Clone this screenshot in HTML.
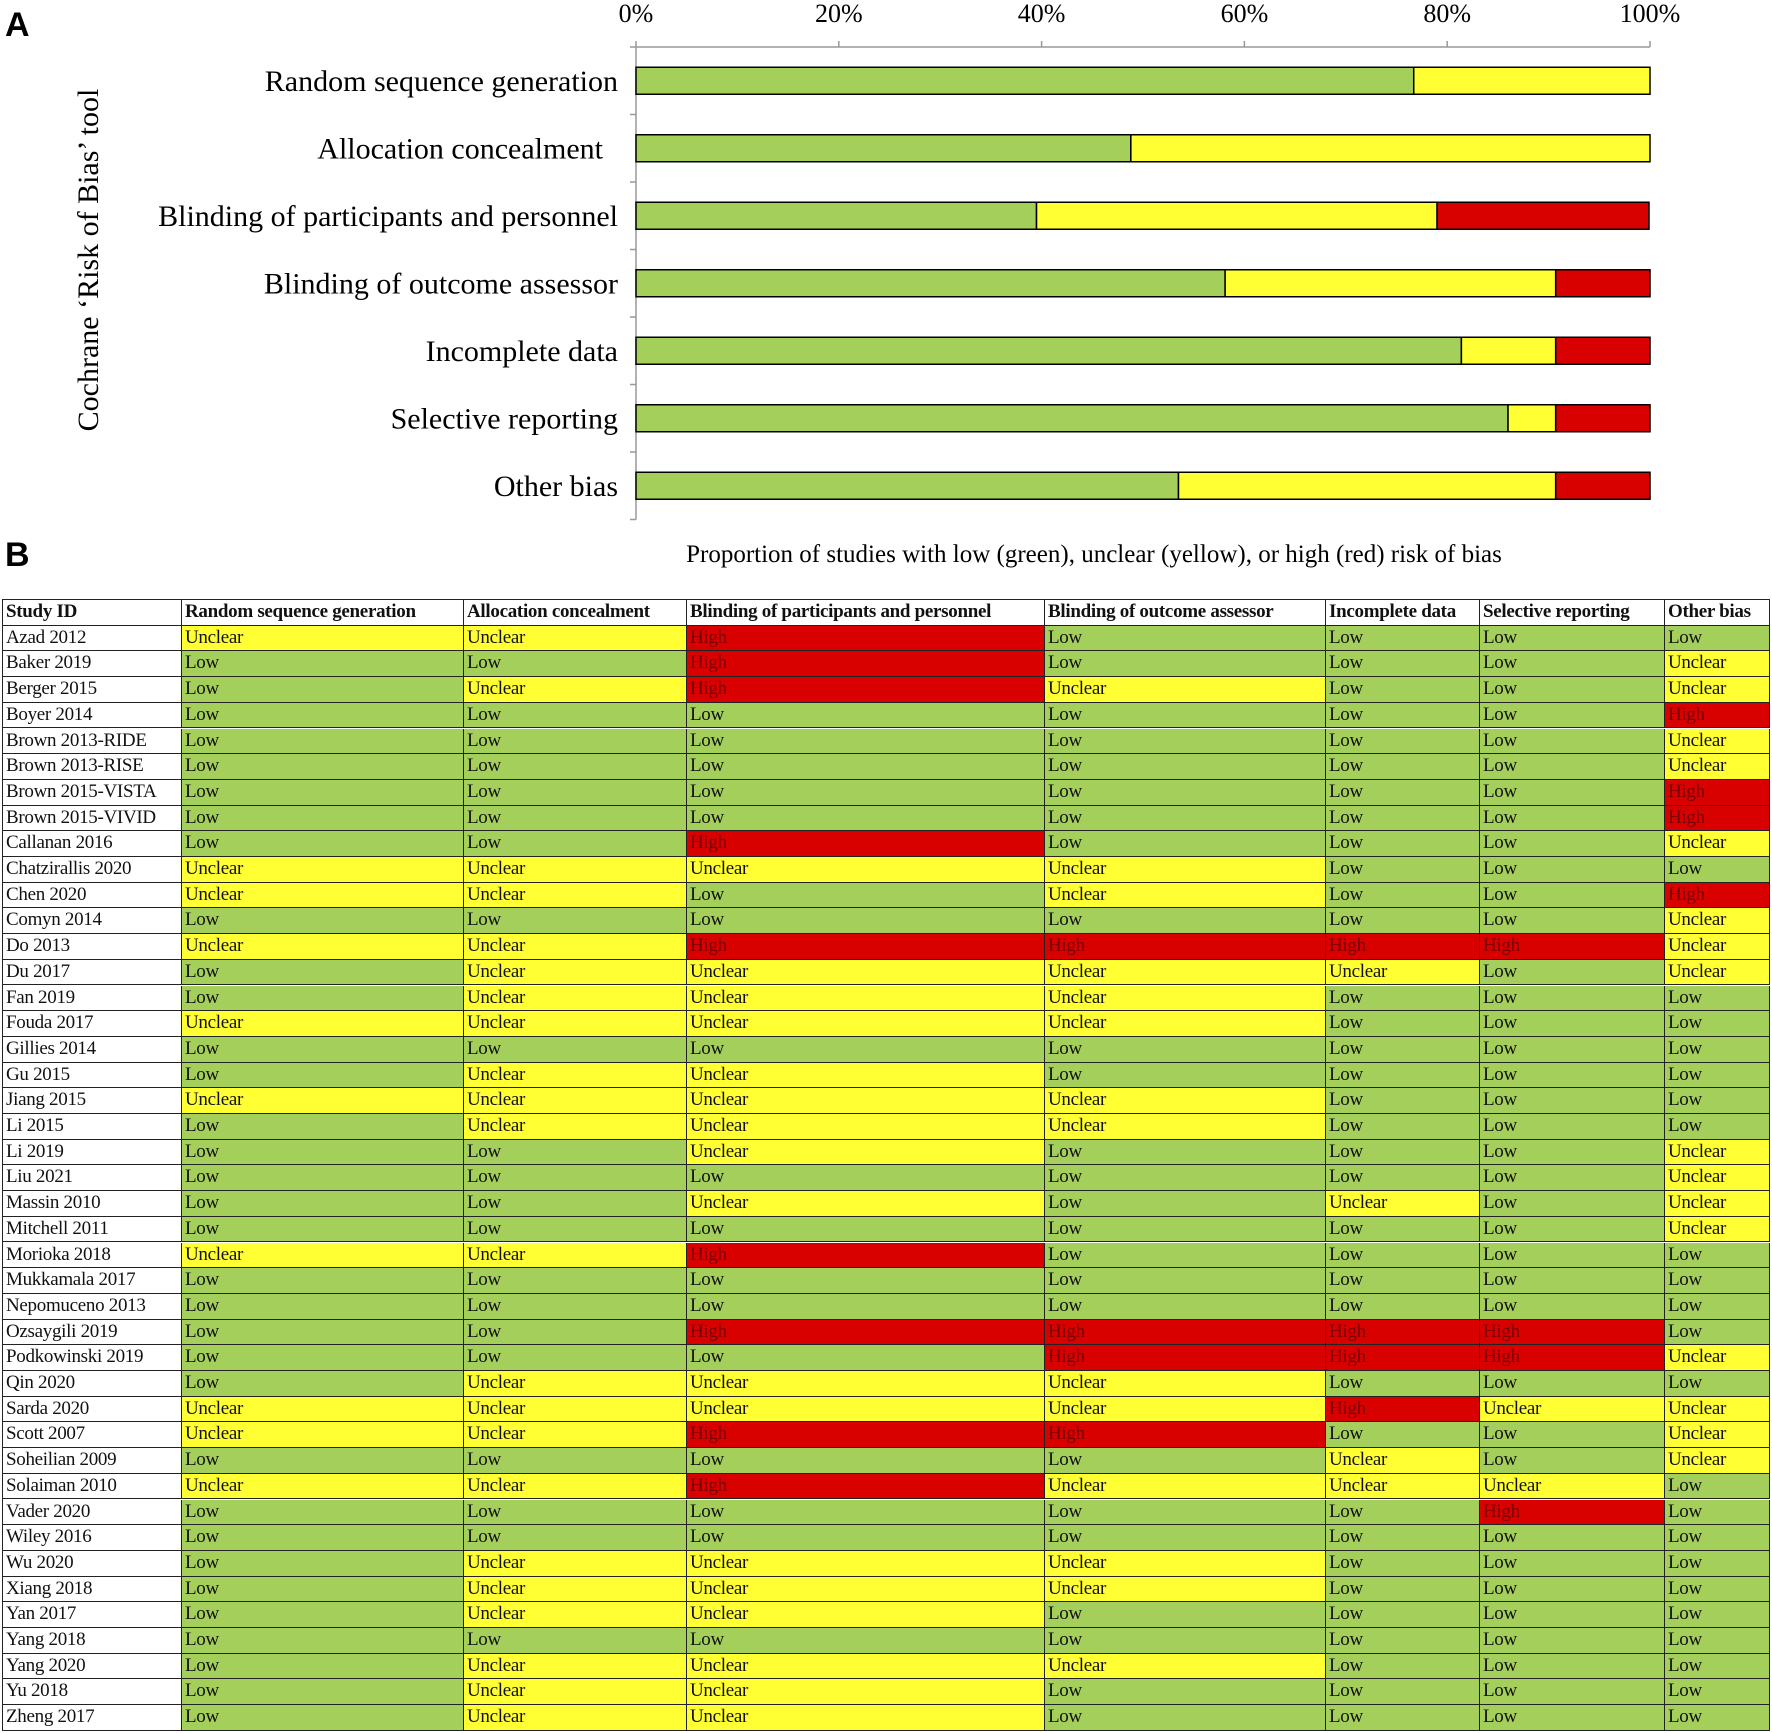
<!DOCTYPE html>
<html><head><meta charset="utf-8">
<style>
html,body{margin:0;padding:0;background:#fff;}
body{width:1772px;height:1733px;position:relative;overflow:hidden;font-family:"Liberation Serif",serif;}
#chart{position:absolute;left:0;top:0;}
.cell{position:absolute;box-sizing:border-box;border-right:1.5px solid #222;border-bottom:1.5px solid #222;font-size:19px;line-height:24px;padding-left:3px;white-space:nowrap;overflow:hidden;color:#111;letter-spacing:-0.3px;}
.hd{font-weight:bold;background:#fff;}
</style></head><body>
<svg id="chart" width="1772" height="600" xmlns="http://www.w3.org/2000/svg"></svg>
<div id="table" style="position:absolute;left:0;top:0;"></div>
<script>
const domains = ["Random sequence generation","Allocation concealment","Blinding of participants and personnel","Blinding of outcome assessor","Incomplete data","Selective reporting","Other bias"];
const lowPct = [76.7, 48.8, 39.5, 58.1, 81.4, 86.0, 53.5];
const unclearPct = [23.3, 51.2, 39.5, 32.6, 9.3, 4.7, 37.2];
const highPct = [0, 0, 20.9, 9.3, 9.3, 9.3, 9.3];
const tickLabels = ["0%","20%","40%","60%","80%","100%"];
const tickValues = [0,20,40,60,80,100];

const NS="http://www.w3.org/2000/svg";
const svg=document.getElementById('chart');
const x0=636,x1=1650,axisY=47,bandTop=47,band=67.5,barH=27;
const xs=v=>x0+(x1-x0)*v/100;
const yc=i=>bandTop+band*(i+0.5);
function mk(t,a,p){const e=document.createElementNS(NS,t);for(const k in a)e.setAttribute(k,a[k]);(p||svg).appendChild(e);return e;}
let e;
e=mk('text',{x:5,y:36,'font-family':'Liberation Sans, sans-serif','font-weight':'bold','font-size':34});e.textContent='A';


e=mk('text',{x:5,y:566,'font-family':'Liberation Sans, sans-serif','font-weight':'bold','font-size':34});e.textContent='B';


e=mk('line',{x1:x0,y1:axisY,x2:x1,y2:axisY,stroke:'#999','stroke-width':1.5});


e=mk('line',{x1:x0,y1:axisY,x2:x0,y2:bandTop+band*7,stroke:'#999','stroke-width':1.5});


tickValues.forEach((v,i)=>{
  const t=mk('line',{x1:xs(v),y1:axisY-6,x2:xs(v),y2:axisY,stroke:'#999','stroke-width':1.5});
  
  
  const l=mk('text',{x:xs(v),y:22,'text-anchor':'middle','font-size':26,'font-family':'Liberation Serif, serif'});
  l.textContent=tickLabels[i];
  
  
});
for(let i=0;i<=7;i++){const t=mk('line',{x1:x0-6,y1:bandTop+band*i,x2:x0,y2:bandTop+band*i,stroke:'#999','stroke-width':1.5});
  
  }
domains.forEach((d,i)=>{
  const y=yc(i)-barH/2;
  const segs=[[0,lowPct[i],'#a5cf5b'],[lowPct[i],lowPct[i]+unclearPct[i],'#ffff33'],[lowPct[i]+unclearPct[i],lowPct[i]+unclearPct[i]+highPct[i],'#d90000']];
  segs.forEach((s,j)=>{ if(s[1]-s[0]<=0)return;
    const r=mk('rect',{x:xs(s[0]),y:y,width:xs(s[1])-xs(s[0]),height:barH,fill:s[2],stroke:'#000','stroke-width':1.5});
    
    
  });
  const l=mk('text',{x:i==1?603:618,y:yc(i)+10,'text-anchor':'end','font-size':30,'font-family':'Liberation Serif, serif'});
  l.textContent=d;
  
  
});
e=mk('text',{x:0,y:0,transform:'translate(98,260) rotate(-90)','text-anchor':'middle','font-size':30,'font-family':'Liberation Serif, serif'});
e.textContent='Cochrane ‘Risk of Bias’ tool';


e=mk('text',{x:1094,y:562,'text-anchor':'middle','font-size':25,'font-family':'Liberation Serif, serif'});
e.textContent='Proportion of studies with low (green), unclear (yellow), or high (red) risk of bias';



const studies=["Azad 2012","Baker 2019","Berger 2015","Boyer 2014","Brown 2013-RIDE","Brown 2013-RISE","Brown 2015-VISTA","Brown 2015-VIVID","Callanan 2016","Chatzirallis 2020","Chen 2020","Comyn 2014","Do 2013","Du 2017","Fan 2019","Fouda 2017","Gillies 2014","Gu 2015","Jiang 2015","Li 2015","Li 2019","Liu 2021","Massin 2010","Mitchell 2011","Morioka 2018","Mukkamala 2017","Nepomuceno 2013","Ozsaygili 2019","Podkowinski 2019","Qin 2020","Sarda 2020","Scott 2007","Soheilian 2009","Solaiman 2010","Vader 2020","Wiley 2016","Wu 2020","Xiang 2018","Yan 2017","Yang 2018","Yang 2020","Yu 2018","Zheng 2017"];
const ratings=["UUHLLLL","LLHLLLU","LUHULLU","LLLLLLH","LLLLLLU","LLLLLLU","LLLLLLH","LLLLLLH","LLHLLLU","UUUULLL","UULULLH","LLLLLLU","UUHHHHU","LUUUULU","LUUULLL","UUUULLL","LLLLLLL","LUULLLL","UUUULLL","LUUULLL","LLULLLU","LLLLLLU","LLULULU","LLLLLLU","UUHLLLL","LLLLLLL","LLLLLLL","LLHHHHL","LLLHHHU","LUUULLL","UUUUHUU","UUHHLLU","LLLLULU","UUHUUUL","LLLLLHL","LLLLLLL","LUUULLL","LUUULLL","LUULLLL","LLLLLLL","LUUULLL","LUULLLL","LUULLLL"];
const headers=["Study ID"].concat(domains);
const colX=[3,182,464,687,1045,1326,1480,1665,1770];
const tTop=600,rowH=25.7;
const tbl=document.getElementById('table');
const col={L:'#a5cf5b',U:'#ffff33',H:'#d90000'};
const word={L:'Low',U:'Unclear',H:'High'};
const ob=document.createElement('div');
ob.style.cssText=`position:absolute;left:${colX[0]-1}px;top:${tTop-1}px;width:${colX[8]-colX[0]+1}px;height:${rowH*44+1}px;border-left:1.5px solid #222;border-top:1.5px solid #222;box-sizing:border-box;`;


tbl.appendChild(ob);
function cell(r,c,text,bg,cls,color){
  const d=document.createElement('div');
  d.className='cell'+(cls?' '+cls:'');
  d.style.left=colX[c]+'px';d.style.top=(tTop+r*rowH)+'px';
  d.style.width=(colX[c+1]-colX[c])+'px';d.style.height=rowH+'px';
  d.style.background=bg;if(color)d.style.color=color;
  d.textContent=text;
  tbl.appendChild(d);return d;
}
headers.forEach((h,c)=>{const d=cell(0,c,h,'#fff','hd');
  
  });
studies.forEach((s,i)=>{
  const d=cell(i+1,0,s,'#fff');
  
  
  for(let c=0;c<7;c++){const k=ratings[i][c];
    const x=cell(i+1,c+1,word[k],col[k],'',k==='H'?'#7a0000':null);
    
    }
});
</script>
</body></html>
